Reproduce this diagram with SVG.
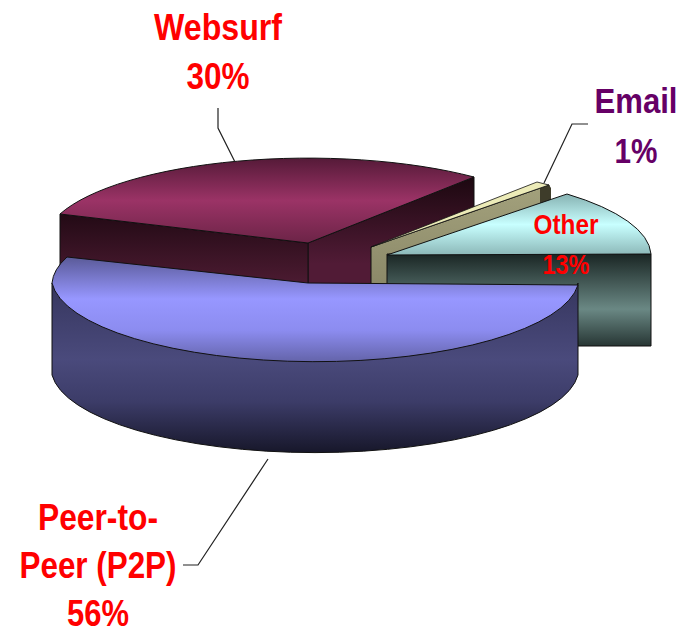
<svg xmlns="http://www.w3.org/2000/svg" width="696" height="633" viewBox="0 0 696 633">
<style>
.edge{stroke:#111;stroke-width:1;stroke-linejoin:round}
.lead{fill:none;stroke:#222;stroke-width:1.2}
.lbl{font-family:"Liberation Sans",Arial,sans-serif;font-weight:bold;text-anchor:middle}
.red{fill:#ff0000}
.pur{fill:#660066}
</style>
<defs>
<linearGradient id="wsTop" x1="0" y1="0" x2="0" y2="1">
<stop offset="0" stop-color="#551a38"/><stop offset="0.5" stop-color="#9b3366"/><stop offset="1" stop-color="#6c2447"/>
</linearGradient>
<linearGradient id="wsFront" x1="0" y1="0" x2="0" y2="1">
<stop offset="0" stop-color="#230a15"/><stop offset="0.55" stop-color="#4a1a30"/><stop offset="1" stop-color="#4a1a30"/>
</linearGradient>
<linearGradient id="wsRight" x1="0" y1="0" x2="0" y2="1">
<stop offset="0" stop-color="#1c0810"/><stop offset="0.55" stop-color="#511b36"/><stop offset="1" stop-color="#511b36"/>
</linearGradient>
<linearGradient id="emCut" x1="0" y1="0" x2="0" y2="1">
<stop offset="0" stop-color="#a3a17c"/><stop offset="1" stop-color="#7e7c5e"/>
</linearGradient>
<linearGradient id="otTop" x1="0" y1="0" x2="0" y2="1">
<stop offset="0" stop-color="#86b2b2"/><stop offset="0.5" stop-color="#c8ffff"/><stop offset="1" stop-color="#8cb8b8"/>
</linearGradient>
<linearGradient id="otFront" x1="0" y1="0" x2="0" y2="1">
<stop offset="0" stop-color="#1a2624"/><stop offset="0.6" stop-color="#6a8884"/><stop offset="1" stop-color="#273634"/>
</linearGradient>
<linearGradient id="bTop" x1="0" y1="0" x2="0" y2="1">
<stop offset="0" stop-color="#5a5a98"/><stop offset="0.4" stop-color="#9797ff"/><stop offset="0.7" stop-color="#8c8cf0"/><stop offset="1" stop-color="#6464aa"/>
</linearGradient>
<linearGradient id="bSide" x1="0" y1="0" x2="0" y2="1">
<stop offset="0" stop-color="#36365e"/><stop offset="0.45" stop-color="#4a4a7c"/><stop offset="0.7" stop-color="#3c3c68"/><stop offset="1" stop-color="#17172a"/>
</linearGradient>
</defs>

<g id="websurf">
<path class="edge" fill="url(#wsRight)" d="M308,243 L474,177 L474,269 L308,335 Z"/>
<path class="edge" fill="url(#wsFront)" d="M60,214 L308,243 L308,335 L60,306 Z"/>
<path class="edge" fill="url(#wsTop)" d="M60,214 A264,85 0 0 1 474,177 L308,243 Z"/>
<text class="lbl red" x="218" y="40" font-size="37" textLength="128" lengthAdjust="spacingAndGlyphs">Websurf</text>
<text class="lbl red" x="218" y="89" font-size="37" textLength="63" lengthAdjust="spacingAndGlyphs">30%</text>
</g>

<g id="email">
<path class="edge" fill="url(#emCut)" d="M371,247 L549,185 L549,277 L371,339 Z"/>
<path fill="#3e3c2a" d="M540,183 L549,185 L551,188 L551,205 L540,205 Z"/>
<path fill="#ecebb8" stroke="#111" stroke-width="0.8" d="M371,247 L537,182 L549,185 Z"/>
<text class="lbl pur" x="636" y="113" font-size="35" textLength="83" lengthAdjust="spacingAndGlyphs">Email</text>
<text class="lbl pur" x="636" y="163" font-size="35" textLength="43" lengthAdjust="spacingAndGlyphs">1%</text>
</g>

<g id="other">
<rect class="edge" fill="url(#otFront)" x="387" y="254" width="264" height="92"/>
<path class="edge" fill="url(#otTop)" d="M387,255 L567,194 A264,85 0 0 1 651,254 Z"/>
</g>

<g id="p2p">
<path class="edge" fill="url(#bSide)" d="M52,283 A264,85 0 0 0 578,283 L578,375 A264,85 0 0 1 52,375 Z"/>
<path class="edge" fill="url(#bTop)" d="M67,257 L308,283 L578,285 A264,85 0 0 1 52,283 A264,85 0 0 1 67,257 Z"/>
<text class="lbl red" x="98" y="530" font-size="37" textLength="120" lengthAdjust="spacingAndGlyphs">Peer-to-</text>
<text class="lbl red" x="98" y="578" font-size="37" textLength="157" lengthAdjust="spacingAndGlyphs">Peer (P2P)</text>
<text class="lbl red" x="98" y="626" font-size="36" textLength="62" lengthAdjust="spacingAndGlyphs">56%</text>
</g>

<g id="other-label">
<text class="lbl red" x="566" y="234" font-size="27" textLength="65" lengthAdjust="spacingAndGlyphs">Other</text>
<text class="lbl red" x="566" y="274" font-size="28" textLength="47" lengthAdjust="spacingAndGlyphs">13%</text>
</g>

<g id="connectors">
<polyline class="lead" points="218,108 218,128 235,162"/>
<polyline class="lead" points="588,124 572,124 544,183"/>
<polyline class="lead" points="183,565 198,565 268,459"/>
</g>
</svg>
